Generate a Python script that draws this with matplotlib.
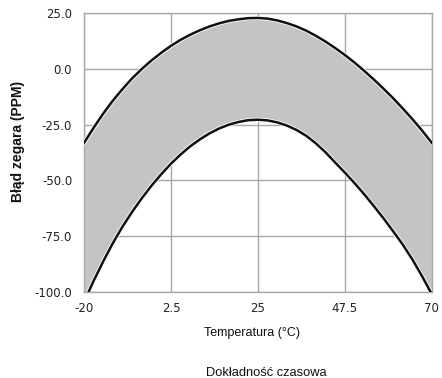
"""Clock drift vs temperature band (RTC crystal accuracy)."""

import matplotlib
matplotlib.use('Agg')
import matplotlib.pyplot as plt

# temperature samples (deg C) and drift (PPM)
temp = [-20, -17.5, -15, -12.5, -10, -7.5, -5, -2.5, 0, 2.5, 5, 7.5, 10, 12.5,
        15, 17.5, 20, 22.5, 25, 27.5, 30, 32.5, 35, 37.5, 40, 42.5, 45, 47.5,
        50, 52.5, 55, 57.5, 60, 62.5, 65, 67.5, 70]
upper = [-33.2, -26.4, -20.0, -14.2, -9.0, -4.2, 0.0, 3.8, 7.2, 10.3, 13.0,
         15.3, 17.3, 19.0, 20.4, 21.5, 22.2, 22.7, 22.8, 22.5, 21.7, 20.5, 19.0,
         17.1, 14.8, 12.2, 9.3, 6.2, 2.8, -0.9, -4.8, -8.9, -13.2, -17.8,
         -22.6, -27.7, -33.2]
lower = [-104.5, -95.0, -86.2, -78.0, -70.6, -64.0, -57.9, -52.3, -47.2, -42.5,
         -38.4, -34.7, -31.6, -28.9, -26.7, -25.0, -23.8, -23.0, -22.8, -23.1,
         -24.0, -25.4, -27.4, -30.0, -33.4, -37.4, -42.0, -46.5, -51.2, -56.2,
         -61.5, -67.0, -72.8, -78.8, -85.5, -93.0, -101.0]

xticks = [-20, 2.5, 25, 47.5, 70]
xtick_labels = ['-20', '2.5', '25', '47.5', '70']
yticks = [25, 0, -25, -50, -75, -100]
ytick_labels = ['25.0', '0.0', '-25.0', '-50.0', '-75.0', '-100.0']

fig = plt.figure(figsize=(4.42, 3.78), dpi=100)
ax = fig.add_axes([0.190, 0.2275, 0.787, 0.738])

ax.fill_between(temp, lower, upper, color='#c2c4c6', lw=0, zorder=2)
for ys in (upper, lower):
    # thin light halo along the curve, then the black line
    ax.plot(temp, ys, color='white', lw=3.0, zorder=3)
    ax.plot(temp, ys, color='#111111', lw=1.8, zorder=4)

ax.set_xlim(-20, 70)
ax.set_ylim(-100, 25)
ax.set_xticks(xticks)
ax.set_xticklabels(xtick_labels)
ax.set_yticks(yticks)
ax.set_yticklabels(ytick_labels)
ax.tick_params(length=0, labelsize=8.5, colors='#222222')
ax.tick_params(axis='y', pad=8.5)
ax.tick_params(axis='x', pad=7.5)
for lab in ax.get_xticklabels() + ax.get_yticklabels():
    lab.set_family('DejaVu Sans')

ax.grid(True, color='#a8a8a8', lw=1.0, zorder=1)
ax.set_axisbelow(True)
for s in ax.spines.values():
    s.set_color('#a8a8a8')
    s.set_linewidth(1.0)

fig.text(18 / 442, 1 - 141 / 378, 'Błąd zegara (PPM)', rotation=90,
         fontsize=10, family='Liberation Sans', fontweight='bold',
         color='#111111', ha='center', va='center')
fig.text(252 / 442, 1 - 333 / 378, 'Temperatura (°C)', fontsize=9,
         family='Liberation Sans', color='#111111', ha='center', va='center')
fig.text(266 / 442, 1 - 373 / 378, 'Dokładność czasowa', fontsize=9.3,
         family='Liberation Sans', color='#111111', ha='center', va='center')

fig.savefig('out.png', dpi=100)
